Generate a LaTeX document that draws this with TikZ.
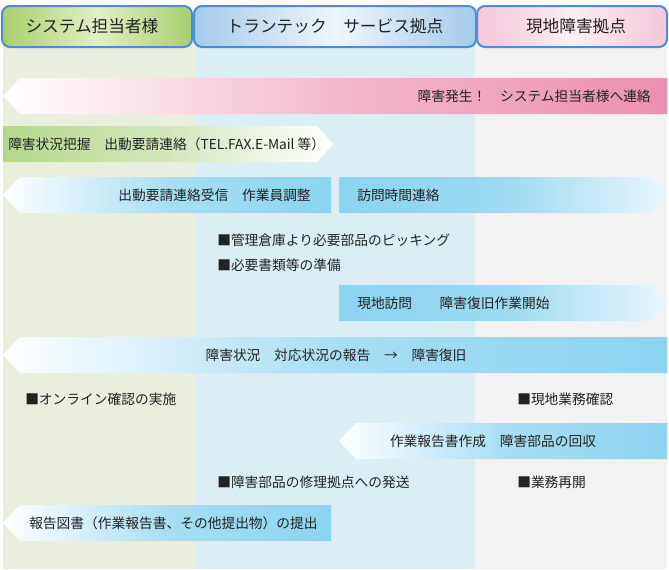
\documentclass[tikz,border=0pt]{standalone}
\usepackage{fontspec}
\setmainfont{Noto Sans CJK JP}
\usetikzlibrary{positioning}
\definecolor{lanegrn}{RGB}{234,238,223}
\definecolor{laneblu}{RGB}{219,238,244}
\definecolor{lanegry}{RGB}{242,242,242}
\definecolor{hdrline}{RGB}{74,141,216}
\definecolor{hgrn}{RGB}{168,207,110}
\definecolor{hgrnlt}{RGB}{228,238,198}
\definecolor{hblu}{RGB}{164,203,236}
\definecolor{hblult}{RGB}{240,246,252}
\definecolor{hpnk}{RGB}{245,198,217}
\definecolor{hpnklt}{RGB}{252,238,244}
\definecolor{pinkbar}{RGB}{236,143,176}
\definecolor{grnbar}{RGB}{183,215,142}
\definecolor{blubar}{RGB}{140,211,240}
\definecolor{txtdark}{RGB}{34,34,34}
\tikzset{
  hdr/.style={draw=hdrline, line width=1.5pt, rounded corners=6pt},
  htxt/.style={font=\fontsize{12.5}{14}\selectfont, text=txtdark, inner sep=0pt},
  btxt/.style={font=\fontsize{10.3}{12}\selectfont, text=txtdark, inner sep=0pt},
  note/.style={btxt, anchor=west},
  tobar/.style={left color=white, right color=blubar, middle color=blubar!75!white},
  frombar/.style={left color=blubar, right color=blubar!20!white, middle color=blubar!85!white},
}

\begin{document}
\begin{tikzpicture}[x=0.75pt, y=-0.75pt]
  \useasboundingbox (0,0) rectangle (669,569);
  % lanes
  \fill[lanegrn] (3,30) rectangle (195,569);
  \fill[laneblu] (195,30) rectangle (475,569);
  \fill[lanegry] (475,30) rectangle (667,569);

  % lane heads
  \shadedraw[hdr, left color=hgrn, right color=hgrn, middle color=hgrnlt] (2,6) rectangle (192,47);
  \shadedraw[hdr, left color=hblu, right color=hblu, middle color=hblult] (194,6) rectangle (476,47);
  \shadedraw[hdr, left color=hpnk, right color=hpnk, middle color=hpnklt] (477,6) rectangle (667,47);
  \node[htxt] (hcust) at (92,26.5) {システム担当者様};
  \node[htxt] (hserv) at (335,26.5) {トランテック　サービス拠点};
  \node[htxt] (hsite) at (576,26.5) {現地障害拠点};

  % bars
  \shade[left color=white, right color=pinkbar, middle color=pinkbar!62!white] (3,96) -- (20,78) -- (667,78) -- (667,114) -- (20,114) -- cycle;
  \node[btxt, anchor=east] (alarm) at (651,96) {障害発生！　システム担当者様へ連絡};

  \shade[left color=grnbar, right color=white, middle color=grnbar!60!white] (3,126) -- (317,126) -- (333,144) -- (317,162) -- (3,162) -- cycle;
  \node[btxt, anchor=west] (request) at (8,144) {障害状況把握　出動要請連絡（TEL.FAX.E-Mail 等）};

  \shade[tobar] (3,195) -- (20,177) -- (331,177) -- (331,213) -- (20,213) -- cycle;
  \node[btxt, anchor=east] (receive) at (311,195) {出動要請連絡受信　作業員調整};

  \shade[frombar] (339,177) -- (650,177) -- (667,195) -- (650,213) -- (339,213) -- cycle;
  \node[btxt, anchor=west] (visittime) at (357,195) {訪問時間連絡};

  \node[note] (picking) at (217,240) {■管理倉庫より必要部品のピッキング};
  \node[note] (papers) at (217,265) {■必要書類等の準備};

  \shade[frombar] (339,285) -- (650,285) -- (667,303) -- (650,321) -- (339,321) -- cycle;
  \node[btxt, anchor=west] (visit) at (357,303) {現地訪問　　障害復旧作業開始};

  \shade[tobar] (3,355) -- (20,337) -- (667,337) -- (667,373) -- (20,373) -- cycle;
  \node[btxt] (report) at (336,355) {障害状況　対応状況の報告　→　障害復旧};

  \node[note] (online) at (25,399) {■オンライン確認の実施};
  \node[note] (sitecheck) at (517,399) {■現地業務確認};

  \shade[tobar] (339,441) -- (356,423) -- (667,423) -- (667,459) -- (356,459) -- cycle;
  \node[btxt] (workrep) at (493,441) {作業報告書作成　障害部品の回収};

  \node[note] (ship) at (217,482) {■障害部品の修理拠点への発送};
  \node[note] (resume) at (517,482) {■業務再開};

  \shade[tobar] (3,523) -- (20,505) -- (331,505) -- (331,541) -- (20,541) -- cycle;
  \node[btxt, anchor=west] (submit) at (29,523) {報告図書（作業報告書、その他提出物）の提出};
\end{tikzpicture}
\end{document}
